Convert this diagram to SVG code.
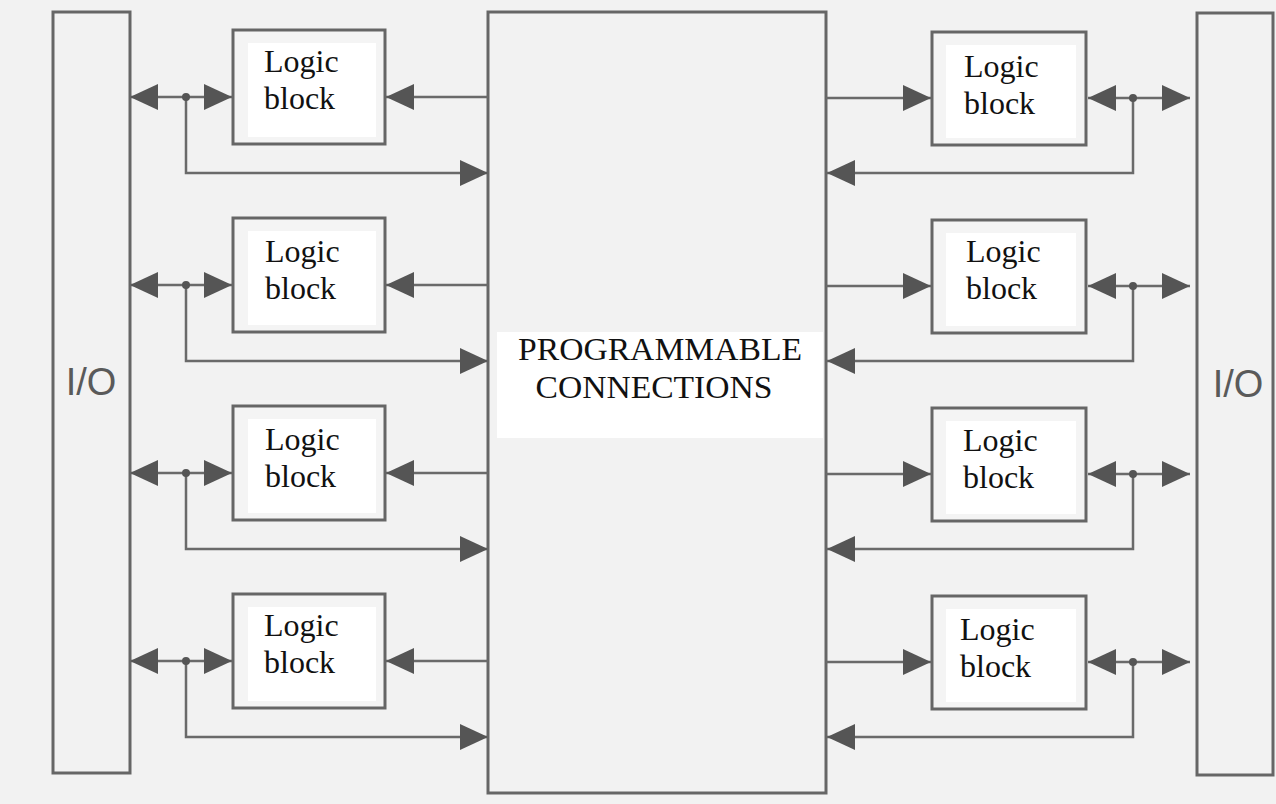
<svg xmlns="http://www.w3.org/2000/svg" width="1276" height="804" viewBox="0 0 1276 804">
  <style>
    .frame { fill: none; stroke: #666; stroke-width: 3; }
    .blk { fill: #f4f4f4; stroke: #666; stroke-width: 3; }
    .inner { fill: #ffffff; stroke: none; }
    .wire { fill: none; stroke: #6a6a6a; stroke-width: 2.5; }
    .dot { fill: #555; }
    .lbl { font-family: "Liberation Serif", "Times New Roman", serif; font-size: 32px; fill: #111; }
    .io { font-family: "Liberation Sans", Arial, sans-serif; font-size: 38px; fill: #5a5a5a; }
    .pc { font-family: "Liberation Serif", "Times New Roman", serif; font-size: 31px; fill: #111; }
  </style>
  <defs>
    <marker id="ah" markerUnits="userSpaceOnUse" markerWidth="28" markerHeight="26" refX="28" refY="13" orient="auto-start-reverse" viewBox="0 0 28 26">
      <path d="M0,0 L28,13 L0,26 Z" fill="#555"/>
    </marker>
  </defs>

  <rect width="1276" height="804" fill="#f2f2f2"/>

  <!-- I/O columns -->
  <g id="io-left">
    <rect class="frame" x="53" y="12" width="77" height="761" fill="#f4f4f4"/>
    <text class="io" x="91" y="395" text-anchor="middle">I/O</text>
  </g>
  <g id="io-right">
    <rect class="frame" x="1197" y="13" width="76" height="762" fill="#f4f4f4"/>
    <text class="io" x="1238" y="397" text-anchor="middle">I/O</text>
  </g>

  <!-- central routing fabric -->
  <g id="fabric">
    <rect class="frame" x="488" y="12" width="338" height="781" fill="#f3f3f3"/>
    <rect class="inner" x="497" y="332" width="326" height="106"/>
    <text class="pc" x="660" y="360" text-anchor="middle" textLength="284" lengthAdjust="spacingAndGlyphs">PROGRAMMABLE</text>
    <text class="pc" x="654" y="398" text-anchor="middle" textLength="237" lengthAdjust="spacingAndGlyphs">CONNECTIONS</text>
  </g>

  <!-- left logic blocks -->
  <g id="lb-left-1">
    <rect class="blk" x="233" y="30" width="152" height="114"/>
    <rect class="inner" x="248" y="43" width="128" height="94"/>
    <text class="lbl" x="264" y="72">Logic</text>
    <text class="lbl" x="264" y="109">block</text>
  </g>
  <g id="lb-left-2">
    <rect class="blk" x="233" y="218" width="152" height="114"/>
    <rect class="inner" x="248" y="231" width="128" height="94"/>
    <text class="lbl" x="265" y="262">Logic</text>
    <text class="lbl" x="265" y="299">block</text>
  </g>
  <g id="lb-left-3">
    <rect class="blk" x="233" y="406" width="152" height="114"/>
    <rect class="inner" x="248" y="419" width="128" height="94"/>
    <text class="lbl" x="265" y="450">Logic</text>
    <text class="lbl" x="265" y="487">block</text>
  </g>
  <g id="lb-left-4">
    <rect class="blk" x="233" y="594" width="152" height="114"/>
    <rect class="inner" x="248" y="607" width="128" height="94"/>
    <text class="lbl" x="264" y="636">Logic</text>
    <text class="lbl" x="264" y="673">block</text>
  </g>

  <!-- right logic blocks -->
  <g id="lb-right-1">
    <rect class="blk" x="932" y="32" width="154" height="113"/>
    <rect class="inner" x="946" y="45" width="130" height="93"/>
    <text class="lbl" x="964" y="77">Logic</text>
    <text class="lbl" x="964" y="114">block</text>
  </g>
  <g id="lb-right-2">
    <rect class="blk" x="932" y="220" width="154" height="113"/>
    <rect class="inner" x="946" y="233" width="130" height="93"/>
    <text class="lbl" x="966" y="262">Logic</text>
    <text class="lbl" x="966" y="299">block</text>
  </g>
  <g id="lb-right-3">
    <rect class="blk" x="932" y="408" width="154" height="113"/>
    <rect class="inner" x="946" y="421" width="130" height="93"/>
    <text class="lbl" x="963" y="451">Logic</text>
    <text class="lbl" x="963" y="488">block</text>
  </g>
  <g id="lb-right-4">
    <rect class="blk" x="932" y="596" width="154" height="113"/>
    <rect class="inner" x="946" y="609" width="130" height="93"/>
    <text class="lbl" x="960" y="640">Logic</text>
    <text class="lbl" x="960" y="677">block</text>
  </g>

  <!-- connectors -->
  <g id="connectors">
    <!-- left rows: I/O <-> block, tap to fabric, fabric -> block -->
    <line class="wire" x1="130" y1="97" x2="232" y2="97" marker-start="url(#ah)" marker-end="url(#ah)"/>
    <path class="wire" d="M186,97 V173 H488" marker-end="url(#ah)"/>
    <line class="wire" x1="488" y1="97" x2="386" y2="97" marker-end="url(#ah)"/>
    <circle class="dot" cx="186" cy="97" r="4"/>

    <line class="wire" x1="130" y1="285" x2="232" y2="285" marker-start="url(#ah)" marker-end="url(#ah)"/>
    <path class="wire" d="M186,285 V361 H488" marker-end="url(#ah)"/>
    <line class="wire" x1="488" y1="285" x2="386" y2="285" marker-end="url(#ah)"/>
    <circle class="dot" cx="186" cy="285" r="4"/>

    <line class="wire" x1="130" y1="473" x2="232" y2="473" marker-start="url(#ah)" marker-end="url(#ah)"/>
    <path class="wire" d="M186,473 V549 H488" marker-end="url(#ah)"/>
    <line class="wire" x1="488" y1="473" x2="386" y2="473" marker-end="url(#ah)"/>
    <circle class="dot" cx="186" cy="473" r="4"/>

    <line class="wire" x1="130" y1="661" x2="232" y2="661" marker-start="url(#ah)" marker-end="url(#ah)"/>
    <path class="wire" d="M186,661 V737 H488" marker-end="url(#ah)"/>
    <line class="wire" x1="488" y1="661" x2="386" y2="661" marker-end="url(#ah)"/>
    <circle class="dot" cx="186" cy="661" r="4"/>

    <!-- right rows: fabric -> block, block <-> I/O, tap back to fabric -->
    <line class="wire" x1="826" y1="98" x2="931" y2="98" marker-end="url(#ah)"/>
    <line class="wire" x1="1088" y1="98" x2="1190" y2="98" marker-start="url(#ah)" marker-end="url(#ah)"/>
    <path class="wire" d="M1133,98 V173 H827" marker-end="url(#ah)"/>
    <circle class="dot" cx="1133" cy="98" r="4"/>

    <line class="wire" x1="826" y1="286" x2="931" y2="286" marker-end="url(#ah)"/>
    <line class="wire" x1="1088" y1="286" x2="1190" y2="286" marker-start="url(#ah)" marker-end="url(#ah)"/>
    <path class="wire" d="M1133,286 V361 H827" marker-end="url(#ah)"/>
    <circle class="dot" cx="1133" cy="286" r="4"/>

    <line class="wire" x1="826" y1="474" x2="931" y2="474" marker-end="url(#ah)"/>
    <line class="wire" x1="1088" y1="474" x2="1190" y2="474" marker-start="url(#ah)" marker-end="url(#ah)"/>
    <path class="wire" d="M1133,474 V549 H827" marker-end="url(#ah)"/>
    <circle class="dot" cx="1133" cy="474" r="4"/>

    <line class="wire" x1="826" y1="662" x2="931" y2="662" marker-end="url(#ah)"/>
    <line class="wire" x1="1088" y1="662" x2="1190" y2="662" marker-start="url(#ah)" marker-end="url(#ah)"/>
    <path class="wire" d="M1133,662 V737 H827" marker-end="url(#ah)"/>
    <circle class="dot" cx="1133" cy="662" r="4"/>
  </g>
</svg>
